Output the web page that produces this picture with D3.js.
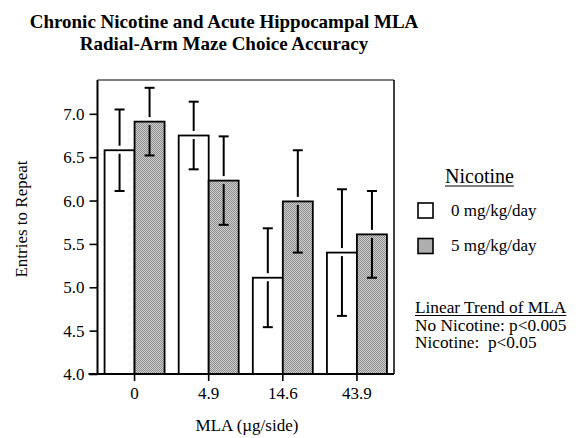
<!DOCTYPE html>
<html>
<head>
<meta charset="utf-8">
<script src="https://cdn.jsdelivr.net/npm/d3@7"></script>
<style>
  html, body { margin: 0; padding: 0; background: #fff; }
  svg { display: block; }
  svg text { font-family: "Liberation Serif", "Times New Roman", serif !important; white-space: pre; fill: #000; }
</style>
</head>
<body>
<svg id="chart" width="578" height="438"></svg>
<script>
// ---- data ----
const categories = ["0", "4.9", "14.6", "43.9"];
const seriesNames = ["0 mg/kg/day", "5 mg/kg/day"];
const meansNoNic = [6.58, 6.75, 5.11, 5.40];
const semNoNic   = [0.47, 0.39, 0.57, 0.73];
const meansNic   = [6.91, 6.23, 5.99, 5.61];
const semNic     = [0.39, 0.51, 0.59, 0.50];
const yTicks = [4.0, 4.5, 5.0, 5.5, 6.0, 6.5, 7.0];
const titleLines = ["Chronic Nicotine and Acute Hippocampal MLA", "Radial-Arm Maze Choice Accuracy"];
const annotLines = ["Linear Trend of MLA", "No Nicotine: p<0.005", "Nicotine:  p<0.05"];

const svg = d3.select("#chart");

// pattern for gray bars
const defs = svg.append("defs");
const pat = defs.append("pattern").attr("id", "stip")
  .attr("patternUnits", "userSpaceOnUse").attr("width", 2).attr("height", 2);
pat.append("rect").attr("width", 2).attr("height", 2).attr("fill", "#cdcdcd");
pat.append("rect").attr("x", 0).attr("y", 0).attr("width", 1).attr("height", 1).attr("fill", "#8e8e8e");
pat.append("rect").attr("x", 1).attr("y", 1).attr("width", 1).attr("height", 1).attr("fill", "#8e8e8e");

const pL = 97.5, pR = 394, pT = 80, pB = 374;

const x = d3.scaleBand().domain(categories).range([pL, pR]).padding(0);
const groupW = 60;
const x1 = d3.scaleBand().domain(seriesNames).range([0, groupW]).padding(0);
const y = d3.scaleLinear().domain([4, 7.39]).range([pB, pT]);

const rows = [];
categories.forEach((c, i) => {
  rows.push({cat: c, s: seriesNames[0], m: meansNoNic[i], e: semNoNic[i]});
  rows.push({cat: c, s: seriesNames[1], m: meansNic[i], e: semNic[i]});
});
const fillOf = s => s === seriesNames[0] ? "#fff" : "url(#stip)";
const bx = d => x(d.cat) + (x.bandwidth() - groupW) / 2 + x1(d.s);

// frame top/right
svg.append("line").attr("x1", pL).attr("x2", pR).attr("y1", pT).attr("y2", pT)
  .attr("stroke", "#000").attr("stroke-width", 1.2);
svg.append("line").attr("x1", pR).attr("x2", pR).attr("y1", pT).attr("y2", pB)
  .attr("stroke", "#000").attr("stroke-width", 1.5);

// bars
svg.append("g").selectAll("rect").data(rows).join("rect")
  .attr("x", bx).attr("y", d => y(d.m))
  .attr("width", x1.bandwidth()).attr("height", d => y(4) - y(d.m))
  .attr("fill", d => fillOf(d.s)).attr("stroke", "#000").attr("stroke-width", 1.8);

// error bars with gap near bar top
const eg = svg.append("g").attr("stroke", "#000").attr("stroke-width", 2);
rows.forEach(d => {
  const cx = bx(d) + x1.bandwidth() / 2;
  const yt = y(d.m + d.e), yb = y(d.m - d.e), ym = y(d.m);
  eg.append("line").attr("x1", cx).attr("x2", cx).attr("y1", yt).attr("y2", ym - 4.5);
  eg.append("line").attr("x1", cx).attr("x2", cx).attr("y1", ym + 3.5).attr("y2", yb);
  eg.append("line").attr("x1", cx - 5).attr("x2", cx + 5).attr("y1", yt).attr("y2", yt);
  eg.append("line").attr("x1", cx - 5).attr("x2", cx + 5).attr("y1", yb).attr("y2", yb);
});

// y axis
const yAxis = d3.axisLeft(y).tickValues(yTicks).tickFormat(d3.format(".1f")).tickSize(8).tickPadding(5);
const gy = svg.append("g").attr("transform", `translate(${pL},0)`).call(yAxis);
gy.attr("font-family", null).attr("font-size", 17);
gy.select(".domain").attr("d", `M0,${pT}V${pB}`).attr("stroke-width", 2);
gy.selectAll(".tick line").attr("stroke-width", 1.6);

// x axis
const xAxis = d3.axisBottom(x).tickSize(7).tickPadding(6);
const gx = svg.append("g").attr("transform", `translate(0,${pB})`).call(xAxis);
gx.attr("font-family", null).attr("font-size", 17);
gx.select(".domain").attr("d", `M${pL - 9},0H${pR}`).attr("stroke-width", 2);
gx.selectAll(".tick line").attr("stroke-width", 1.6);

// title
svg.append("g").selectAll("text").data(titleLines).join("text")
  .attr("x", 224).attr("y", (d, i) => 28 + i * 22)
  .attr("text-anchor", "middle").attr("font-weight", "bold").attr("font-size", 19)
  .text(d => d);

// axis titles
svg.append("text").attr("x", 247).attr("y", 431).attr("text-anchor", "middle")
  .attr("font-size", 17).text("MLA (\u00b5g/side)");
svg.append("text").attr("transform", "translate(27,219) rotate(-90)")
  .attr("text-anchor", "middle").attr("font-size", 17).text("Entries to Repeat");

// legend
const lt = svg.append("text").attr("x", 445).attr("y", 183).attr("font-size", 20).text("Nicotine");
const ltw = lt.node().getComputedTextLength();
svg.append("line").attr("x1", 445).attr("x2", 445 + ltw).attr("y1", 186).attr("y2", 186)
  .attr("stroke", "#000").attr("stroke-width", 1);
const lg = svg.append("g").selectAll("g").data(seriesNames).join("g")
  .attr("transform", (d, i) => `translate(418,${203 + i * 35.5})`);
lg.append("rect").attr("width", 15).attr("height", 15)
  .attr("fill", d => fillOf(d)).attr("stroke", "#000").attr("stroke-width", 1.6);
lg.append("text").attr("x", 33).attr("y", 12.5).attr("font-size", 17).text(d => d);

// annotation
const an = svg.append("g").selectAll("text").data(annotLines).join("text")
  .attr("x", 415).attr("y", (d, i) => 313 + i * 17.5).attr("font-size", 17.3).text(d => d);
const aw = an.nodes()[0].getComputedTextLength();
svg.append("line").attr("x1", 415).attr("x2", 415 + aw).attr("y1", 315.5).attr("y2", 315.5)
  .attr("stroke", "#000").attr("stroke-width", 1);
</script>
</body>
</html>
